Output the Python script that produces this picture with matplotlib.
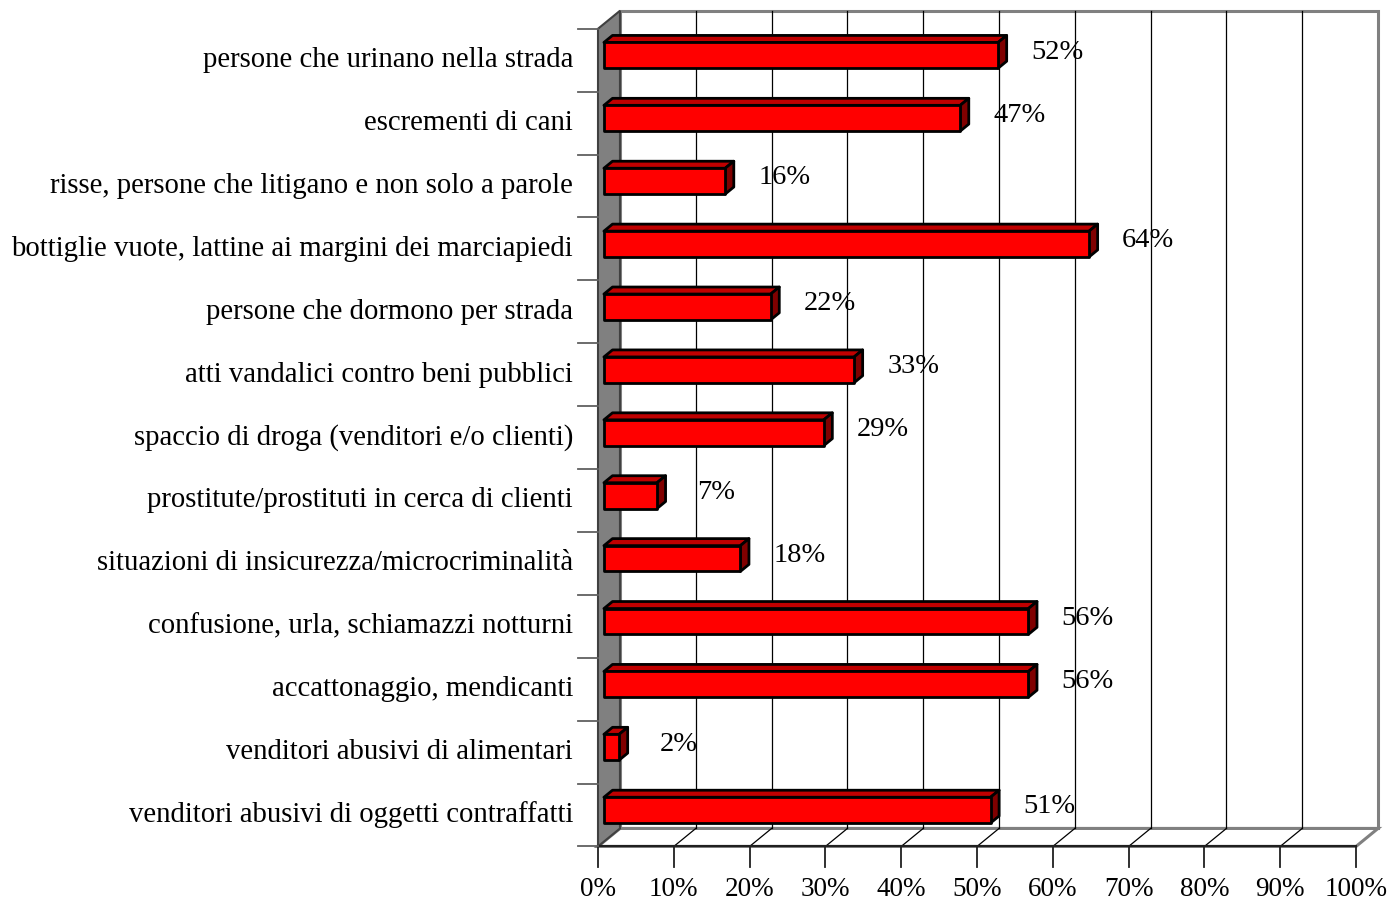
import numpy as np
import matplotlib
matplotlib.use('Agg')
import matplotlib.pyplot as plt
from matplotlib.patches import Polygon

plt.rcParams['font.family'] = ['Liberation Serif', 'DejaVu Serif']

# categories from top to bottom
categories = [
    'persone che urinano nella strada',
    'escrementi di cani',
    'risse, persone che litigano e non solo a parole',
    'bottiglie vuote, lattine ai margini dei marciapiedi',
    'persone che dormono per strada',
    'atti vandalici contro beni pubblici',
    'spaccio di droga (venditori e/o clienti)',
    'prostitute/prostituti in cerca di clienti',
    'situazioni di insicurezza/microcriminalità',
    'confusione, urla, schiamazzi notturni',
    'accattonaggio, mendicanti',
    'venditori abusivi di alimentari',
    'venditori abusivi di oggetti contraffatti',
]
values = [52, 47, 16, 64, 22, 33, 29, 7, 18, 56, 56, 2, 51]
xticks = list(range(0, 101, 10))

# 3d look: depth offset of the plot box, in data units
DX, DY = 2.9, 0.286
F0, F1 = 0.27, 0.66      # depth of bar front / back
H = 0.41                 # bar thickness

fig = plt.figure(figsize=(13.88, 8.99), dpi=100)
ax = fig.add_axes([0, 0, 1, 1])
ax.set_xlim(-78.89, 104.22)
ax.set_ylim(-1.3355, 12.957)
ax.axis('off')

n = len(categories)
ylo, yhi = -0.5, n - 0.5
gray = '#808080'

# back wall
ax.add_patch(Polygon([(DX, ylo + DY), (100 + DX, ylo + DY), (100 + DX, yhi + DY), (DX, yhi + DY)],
                     closed=True, facecolor='white', edgecolor=gray, lw=2.2, zorder=1))
for t in xticks[1:-1]:
    ax.plot([t + DX, t + DX], [ylo + DY, yhi + DY], color='black', lw=0.9, zorder=2)

# floor
ax.add_patch(Polygon([(0, ylo), (100, ylo), (100 + DX, ylo + DY), (DX, ylo + DY)],
                     closed=True, facecolor='white', edgecolor=gray, lw=2.2, zorder=1))
for t in xticks[1:-1]:
    ax.plot([t, t + DX], [ylo, ylo + DY], color='black', lw=0.9, zorder=2)

# left wall
ax.add_patch(Polygon([(0, ylo), (DX, ylo + DY), (DX, yhi + DY), (0, yhi)],
                     closed=True, facecolor=gray, edgecolor='#404040', lw=1.5, zorder=3))

# front axes lines and ticks
ax.plot([0, 100], [ylo, ylo], color='#202020', lw=1.5, zorder=4)
for t in xticks:
    ax.plot([t, t], [ylo, ylo - 0.33], color='#202020', lw=1.3, zorder=4)
    ax.text(t, ylo - 0.68, '%d%%' % t, ha='center', va='center', fontsize=19.5, zorder=6)
for k in range(n + 1):
    yb = ylo + k
    ax.plot([-2.6, 0], [yb, yb], color='#606060', lw=1.3, zorder=4)

# bars
for idx, (cat, v) in enumerate(zip(categories, values)):
    yc = n - 1 - idx
    x0f, x1f = F0 * DX, v + F0 * DX
    x0b, x1b = F1 * DX, v + F1 * DX
    ybf, ytf = yc - H / 2 + F0 * DY, yc + H / 2 + F0 * DY
    ybb, ytb = yc - H / 2 + F1 * DY, yc + H / 2 + F1 * DY
    ax.add_patch(Polygon([(x0f, ytf), (x1f, ytf), (x1b, ytb), (x0b, ytb)], closed=True,
                         facecolor='#C00000', edgecolor='black', lw=2, joinstyle='round', zorder=5))
    ax.add_patch(Polygon([(x1f, ybf), (x1b, ybb), (x1b, ytb), (x1f, ytf)], closed=True,
                         facecolor='#800000', edgecolor='black', lw=2, joinstyle='round', zorder=5))
    ax.add_patch(Polygon([(x0f, ybf), (x1f, ybf), (x1f, ytf), (x0f, ytf)], closed=True,
                         facecolor='#FF0000', edgecolor='black', lw=2, joinstyle='round', zorder=5))
    # value label
    ax.text(v + 0.45 * DX + 7.3, yc + 0.45 * DY, '%d%%' % v, ha='center', va='center',
            fontsize=20.5, zorder=6)
    # category label
    ax.text(-3.3, yc, cat, ha='right', va='center', fontsize=20.7, zorder=6)

fig.savefig('out.png', dpi=100, facecolor='white')
